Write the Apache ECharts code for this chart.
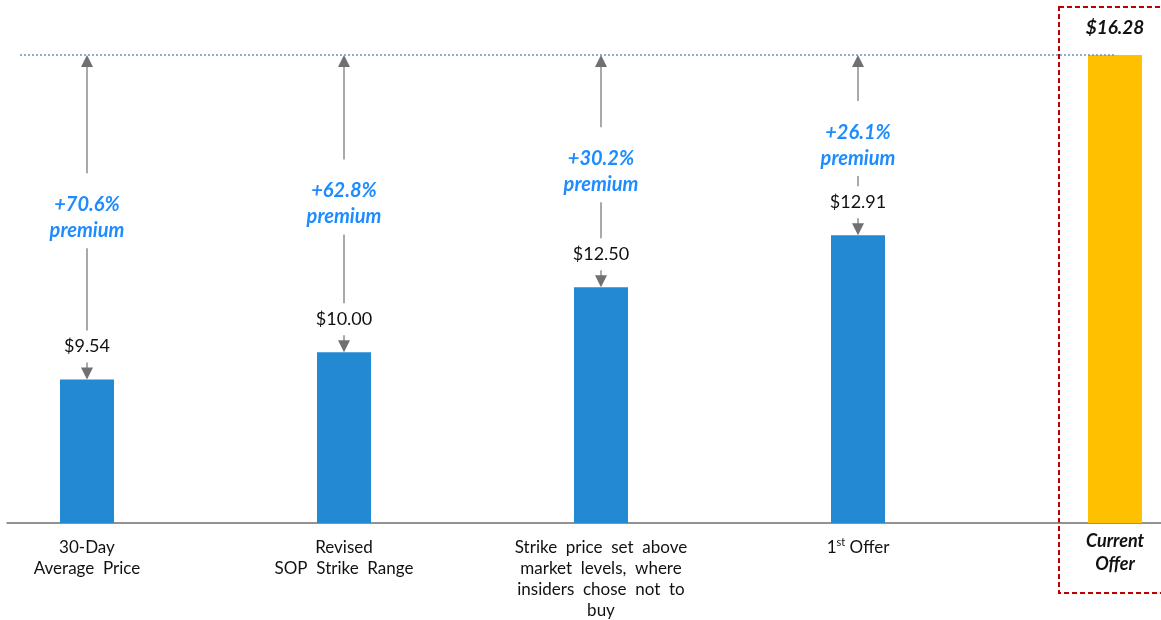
<!DOCTYPE html>
<html><head><meta charset="utf-8">
<script src="https://cdn.jsdelivr.net/npm/echarts@6/dist/echarts.min.js"></script>
<style>html,body{margin:0;padding:0;background:#fff}#c{width:1161px;height:620px}</style>
</head><body><div id="c"></div>
<script>
// ---- data ----
const categories = ['30-Day Average Price', 'Revised SOP Strike Range', 'Strike price set above market levels, where insiders chose not to buy', '1st Offer', 'Current Offer'];
// drawn bar heights (the original is not drawn to scale)
const barHeights = [4.99, 5.94, 8.20, 10.01, 16.28];
const priceLabels = ['$9.54', '$10.00', '$12.50', '$12.91', '$16.28'];
const premiumLabels = ['+70.6%', '+62.8%', '+30.2%', '+26.1%'];
const offerValue = 16.28;

const FONT = 'Lato, "Open Sans", sans-serif';
const chart = echarts.init(document.getElementById('c'), null, {renderer: 'canvas'});

const labelText = [
  '{n|30-Day}\n{n|Average  Price}',
  '{n|Revised}\n{n|SOP  Strike  Range}',
  '{n|Strike  price  set  above}\n{n|market  levels,  where}\n{n|insiders  chose  not  to}\n{n|buy}',
  '{n|1}{sup|st}{n| Offer}',
  ''
];

function renderItem(params, api) {
  const i = api.value(0);
  const bar = api.coord([i, api.value(1)]);
  const top = api.coord([i, offerValue]);
  const base = api.coord([i, 0]);
  const x = bar[0], yb = bar[1], yt = top[1];
  const lineStyle = {stroke: '#8c8c8c', lineWidth: 1.5};
  const headFill = '#707070';
  const ch = [];
  if (i === 0) {
    const end = api.coord([categories.length - 1, offerValue]);
    ch.push({type: 'line', shape: {x1: x - 67, y1: yt, x2: end[0], y2: yt},
      style: {stroke: '#6F8FCC', lineWidth: 1.3, lineDash: [2, 2]}});
  }
  if (i < premiumLabels.length) {
    const mid = (yt + yb) / 2;
    const l1 = mid - 13, l2 = mid + 13;
    const pc = yb - 33;
    ch.push({type: 'line', shape: {x1: x, y1: yt + 11, x2: x, y2: l1 - 31}, style: lineStyle});
    ch.push({type: 'polygon', shape: {points: [[x, yt], [x - 6, yt + 12], [x + 6, yt + 12]]}, style: {fill: headFill}});
    if (pc - 16 > l2 + 18) {
      ch.push({type: 'line', shape: {x1: x, y1: l2 + 18, x2: x, y2: pc - 16}, style: lineStyle});
    }
    ch.push({type: 'line', shape: {x1: x, y1: yb - 17, x2: x, y2: yb - 10}, style: lineStyle});
    ch.push({type: 'polygon', shape: {points: [[x, yb], [x - 6, yb - 12], [x + 6, yb - 12]]}, style: {fill: headFill}});
    ch.push({type: 'text', style: {text: premiumLabels[i], x: x, y: l1, align: 'center', verticalAlign: 'middle',
      font: 'italic bold 20px ' + FONT, fill: '#1E8CFF'}});
    ch.push({type: 'text', style: {text: 'premium', x: x, y: l2, align: 'center', verticalAlign: 'middle',
      font: 'italic bold 20px ' + FONT, fill: '#1E8CFF'}});
    ch.push({type: 'text', style: {text: priceLabels[i], x: x, y: pc, align: 'center', verticalAlign: 'middle',
      font: '18px ' + FONT, fill: '#111'}});
  } else {
    ch.push({type: 'text', style: {text: priceLabels[i], x: x, y: yt - 27, align: 'center', verticalAlign: 'middle',
      font: 'italic bold 19px ' + FONT, fill: '#111'}});
    const words = categories[i].split(' ');
    ch.push({type: 'text', style: {text: words[0], x: x, y: base[1] + 18, align: 'center', verticalAlign: 'middle',
      font: 'italic bold 18px ' + FONT, fill: '#111'}});
    ch.push({type: 'text', style: {text: words[1], x: x, y: base[1] + 41, align: 'center', verticalAlign: 'middle',
      font: 'italic bold 18px ' + FONT, fill: '#111'}});
  }
  return {type: 'group', children: ch};
}

const option = {
  backgroundColor: '#fff',
  animation: false,
  grid: [
    {left: 87, right: 46, top: 55, bottom: 97},
    {left: 7, right: 0, top: 55, bottom: 97}
  ],
  xAxis: [
    {type: 'category', gridIndex: 0, data: categories, boundaryGap: false,
      axisLine: {show: false}, axisTick: {show: false},
      axisLabel: {interval: 0, margin: 14, formatter: (v, idx) => labelText[idx],
        rich: {
          n: {fontFamily: FONT, fontSize: 17, color: '#111', lineHeight: 21},
          sup: {fontFamily: FONT, fontSize: 11, color: '#111', lineHeight: 21, verticalAlign: 'top'}
        }}},
    {type: 'value', gridIndex: 1, min: 0, max: 1,
      axisLine: {show: true, lineStyle: {color: '#6f6f6f', width: 1.5}},
      axisTick: {show: false}, axisLabel: {show: false}, splitLine: {show: false}}
  ],
  yAxis: [
    {type: 'value', gridIndex: 0, min: 0, max: offerValue, show: false, splitLine: {show: false}},
    {type: 'value', gridIndex: 1, min: 0, max: 1, show: false, splitLine: {show: false}}
  ],
  series: [
    {type: 'bar', xAxisIndex: 0, yAxisIndex: 0, barWidth: 54, clip: false,
      data: barHeights.map((h, i) => ({value: h, itemStyle: {color: i === barHeights.length - 1 ? '#FFC000' : '#2389D3'}}))},
    {type: 'custom', xAxisIndex: 0, yAxisIndex: 0, clip: false, silent: true, z: 5,
      renderItem: renderItem,
      data: barHeights.map((h, i) => [i, h])}
  ],
  graphic: [
    {type: 'rect', silent: true,
      shape: {x: 1059, y: 7, width: 140, height: 586},
      style: {fill: 'none', stroke: '#C00000', lineWidth: 2, lineDash: [5, 3]}}
  ]
};
chart.setOption(option);
</script></body></html>
